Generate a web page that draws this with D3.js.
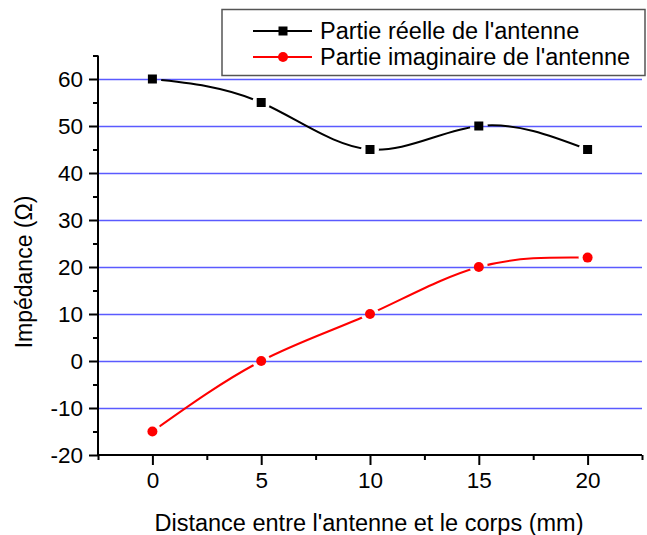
<!DOCTYPE html>
<html><head><meta charset="utf-8">
<script src="https://cdn.jsdelivr.net/npm/d3@7"></script>
<style>body{margin:0;background:#fff}svg{display:block}text{font-family:Arial,"Liberation Sans",sans-serif;fill:#000}</style>
</head><body>
<script>
const distances = [0, 5, 10, 15, 20];
const reelle = [60, 55, 45, 50, 45];
const imaginaire = [-15, 0, 10, 20, 22];
const xTicks = [0, 5, 10, 15, 20];
const yTicks = [-20, -10, 0, 10, 20, 30, 40, 50, 60];
const seriesNames = ["Partie réelle de l'antenne", "Partie imaginaire de l'antenne"];
const xTitle = "Distance entre l'antenne et le corps (mm)";
const yTitle = "Impédance (Ω)";

const W = 647, H = 535;
const svg = d3.select("body").append("svg").attr("width", W).attr("height", H);
const x = d3.scaleLinear().domain([-2.5, 22.5]).range([98, 642]);
const y = d3.scaleLinear().domain([-20, 65]).range([455, 55.5]);

// gridlines
svg.append("g").selectAll("line").data(yTicks.filter(v => v > -20)).join("line")
  .attr("x1", x(-2.5)).attr("x2", x(22.5))
  .attr("y1", d => Math.round(y(d)) + 0.5).attr("y2", d => Math.round(y(d)) + 0.5)
  .attr("stroke", "#5a5aff").attr("stroke-width", 1.3);

// masks for gaps around markers
const defs = svg.append("defs");
const mask = defs.append("mask").attr("id", "gapmask").attr("maskUnits", "userSpaceOnUse");
mask.append("rect").attr("x", 0).attr("y", 0).attr("width", W).attr("height", H).attr("fill", "#fff");
const allPts = distances.map((d, i) => [d, reelle[i]]).concat(distances.map((d, i) => [d, imaginaire[i]]));
mask.selectAll("circle").data(allPts).join("circle")
  .attr("cx", d => x(d[0])).attr("cy", d => y(d[1])).attr("r", 9).attr("fill", "#000");

const line = d3.line().x((d, i) => x(distances[i])).y(d => y(d)).curve(d3.curveNatural);
svg.append("path").attr("d", line(reelle)).attr("fill", "none").attr("stroke", "#000").attr("stroke-width", 2).attr("mask", "url(#gapmask)");
svg.append("path").attr("d", line(imaginaire)).attr("fill", "none").attr("stroke", "#ff0000").attr("stroke-width", 2).attr("mask", "url(#gapmask)");

svg.append("g").selectAll("rect").data(reelle).join("rect")
  .attr("x", (d, i) => x(distances[i]) - 4.5).attr("y", d => y(d) - 4.5)
  .attr("width", 9).attr("height", 9).attr("fill", "#000");
svg.append("g").selectAll("circle").data(imaginaire).join("circle")
  .attr("cx", (d, i) => x(distances[i])).attr("cy", d => y(d)).attr("r", 5).attr("fill", "#ff0000");

// axes
const fmt = d => String(d);
const xAxis = svg.append("g").attr("transform", "translate(0,455)");
xAxis.call(d3.axisBottom(x).tickValues(xTicks).tickSize(10).tickPadding(7).tickFormat(fmt));
const xMinor = svg.append("g").attr("transform", "translate(0,455)");
xMinor.call(d3.axisBottom(x).tickValues([-2.5, 2.5, 7.5, 12.5, 17.5, 22.5]).tickSize(5).tickFormat(""));
xMinor.select(".domain").remove();

const yAxis = svg.append("g").attr("transform", "translate(98,0)");
yAxis.call(d3.axisLeft(y).tickValues(yTicks).tickSize(9).tickPadding(6).tickFormat(fmt));
const yMinor = svg.append("g").attr("transform", "translate(98,0)");
yMinor.call(d3.axisLeft(y).tickValues([-15, -5, 5, 15, 25, 35, 45, 55, 65]).tickSize(5).tickFormat(""));
yMinor.select(".domain").remove();

svg.selectAll(".domain").attr("stroke", "#000").attr("stroke-width", 2);
svg.selectAll(".tick line").attr("stroke", "#000").attr("stroke-width", 2);
svg.selectAll(".tick text").style("font-size", "22.5px").attr("fill", "#000");
xAxis.select(".domain").attr("d", `M${x(-2.5)},0H${x(22.5)}`);
yAxis.select(".domain").attr("d", `M0,${y(-20)}V${y(65)}`);

svg.append("text").attr("x", 369).attr("y", 531).attr("text-anchor", "middle").style("font-size", "23.5px").text(xTitle);
svg.append("text").attr("transform", "translate(32,272) rotate(-90)").attr("text-anchor", "middle").style("font-size", "23px").text(yTitle);

// legend
const lg = svg.append("g");
lg.append("rect").attr("x", 222).attr("y", 9.5).attr("width", 423).attr("height", 66)
  .attr("fill", "#fff").attr("stroke", "#555").attr("stroke-width", 1.5);
const rows = [{name: seriesNames[0], color: "#000", shape: "square", cy: 31},
              {name: seriesNames[1], color: "#ff0000", shape: "circle", cy: 57}];
rows.forEach(r => {
  lg.append("line").attr("x1", 253).attr("x2", 312).attr("y1", r.cy).attr("y2", r.cy).attr("stroke", r.color).attr("stroke-width", 2);
  if (r.shape === "square") lg.append("rect").attr("x", 283 - 4.5).attr("y", r.cy - 4.5).attr("width", 9).attr("height", 9).attr("fill", r.color);
  else lg.append("circle").attr("cx", 283).attr("cy", r.cy).attr("r", 5).attr("fill", r.color);
  lg.append("text").attr("x", 320).attr("y", r.cy + 8).style("font-size", "23.5px").text(r.name);
});
</script>
</body></html>
